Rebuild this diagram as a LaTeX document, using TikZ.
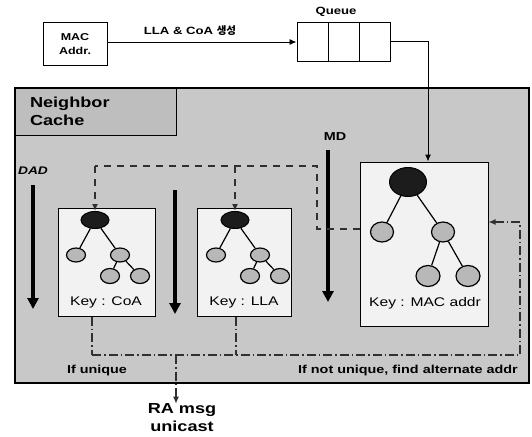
\documentclass[tikz,border=0pt]{standalone}
\usepackage{fontspec}
\setmainfont{Liberation Sans}
\newfontfamily\ws[FakeStretch=1.25]{Liberation Sans}
\newfontfamily\kr{Noto Sans CJK KR}
\usetikzlibrary{arrows.meta,shapes.geometric}
\definecolor{cachegray}{HTML}{C8C8C8}
\definecolor{titlegray}{HTML}{BEBEBE}
\definecolor{treebg}{HTML}{F2F2F2}
\definecolor{leafgray}{HTML}{B8B8B8}
\definecolor{rootblack}{HTML}{1C1C1C}
\definecolor{dashgray}{HTML}{303030}
\begin{document}
\begin{tikzpicture}[x=1pt,y=-1pt,
 box/.style={draw,line width=1pt,inner sep=0pt},
 rootnode/.style={ellipse,draw,fill=rootblack,line width=1pt,inner sep=0pt},
 leaf/.style={ellipse,draw,fill=leafgray,line width=1.2pt,inner sep=0pt},
 edge/.style={line width=1.2pt},
 flow/.style={line width=3.6pt,-{Triangle[width=11pt,length=11pt]}},
 dsh/.style={draw=dashgray,line width=1.6pt,dash pattern=on 7pt off 6pt},
 dd/.style={draw=dashgray,line width=1.3pt,dash pattern=on 9pt off 3pt on 1.5pt off 3pt},
 tip/.style={-{Latex[length=7pt,width=6pt]}},
 lbl/.style={inner sep=0pt,font=\ws\bfseries\fontsize{11.5}{13}\selectfont},
 keylbl/.style={inner sep=0pt,font=\ws\fontsize{12.5}{14}\selectfont}]

\useasboundingbox (0,0) rectangle (532,436);

% outer cache area
\node[box,line width=1.4pt,fill=cachegray,minimum width=514pt,minimum height=295pt] (cache) at (272,235.5) {};
\node[box,fill=titlegray,minimum width=161pt,minimum height=47pt,text width=131pt,align=left,
      font=\ws\bfseries\fontsize{14.5}{18}\selectfont] (title) at (95.5,111.5) {Neighbor\\Cache};

% top row
\node[box,fill=white,minimum width=64pt,minimum height=43pt,align=center,
      font=\ws\bfseries\fontsize{10}{14.5}\selectfont] (mac) at (75,44) {MAC\\Addr.};
\node[box,fill=white,minimum width=31pt,minimum height=38pt] (q1) at (312.5,42) {};
\node[box,fill=white,minimum width=31pt,minimum height=38pt] (q2) at (343.5,42) {};
\node[box,fill=white,minimum width=31pt,minimum height=38pt] (q3) at (374.5,42) {};
\node[lbl,font=\ws\bfseries\fontsize{10.5}{12}\selectfont] (qlabel) at (336,12) {Queue};
\node[lbl,font=\ws\bfseries\fontsize{10.5}{12}\selectfont] (gen) at (190,31) {LLA \& CoA {\kr 생성}};
\draw[line width=0.9pt,tip] (mac.east |- q1.west) -- (q1.west);

% tree boxes
\node[box,fill=treebg,minimum width=97pt,minimum height=108pt] (coa) at (106.5,262) {};
\node[box,fill=treebg,minimum width=94pt,minimum height=108pt] (lla) at (244,262) {};
\node[box,fill=treebg,minimum width=128pt,minimum height=164pt] (macb) at (424,244) {};

\draw[line width=1pt,tip] (q3.east) -| ([xshift=4pt]macb.north);

% CoA tree
\node[rootnode,minimum width=28pt,minimum height=17pt] (cr) at (95,220) {};
\node[leaf,minimum width=19pt,minimum height=14pt] (cl) at (76,255) {};
\node[leaf,minimum width=19pt,minimum height=14pt] (cc) at (120,255) {};
\node[leaf,minimum width=19pt,minimum height=15pt] (cg1) at (110,276) {};
\node[leaf,minimum width=19pt,minimum height=15pt] (cg2) at (140,276) {};
\draw[edge] (cr) -- (cl) (cr) -- (cc) (cc) -- (cg1) (cc) -- (cg2);
\node[keylbl] (ck) at (106,302) {Key : CoA};

% LLA tree
\node[rootnode,minimum width=28pt,minimum height=17pt] (lr) at (235,220) {};
\node[leaf,minimum width=19pt,minimum height=14pt] (ll) at (216,255) {};
\node[leaf,minimum width=19pt,minimum height=14pt] (lc) at (260,255) {};
\node[leaf,minimum width=19pt,minimum height=15pt] (lg1) at (250,276) {};
\node[leaf,minimum width=19pt,minimum height=15pt] (lg2) at (280,276) {};
\draw[edge] (lr) -- (ll) (lr) -- (lc) (lc) -- (lg1) (lc) -- (lg2);
\node[keylbl] (lk) at (244,302) {Key : LLA};

% MAC tree
\node[rootnode,minimum width=37pt,minimum height=29pt] (mr) at (408,182) {};
\node[leaf,minimum width=23pt,minimum height=20pt] (ml) at (382,232) {};
\node[leaf,minimum width=23pt,minimum height=20pt] (mc) at (443,232) {};
\node[leaf,minimum width=24pt,minimum height=21pt] (mg1) at (428,276) {};
\node[leaf,minimum width=24pt,minimum height=21pt] (mg2) at (468,276) {};
\draw[edge] (mr) -- (ml) (mr) -- (mc) (mc) -- (mg1) (mc) -- (mg2);
\node[keylbl] (mk) at (425,303) {Key : MAC addr};

% big flow arrows
\coordinate (dadtop) at (33,185);
\coordinate (dadbot) at (33,309);
\draw[flow] (dadtop) -- (dadbot);
\node[lbl,font=\ws\bfseries\itshape\fontsize{11}{12}\selectfont] (dad) at (33,171) {DAD};
\coordinate (midtop) at (175,190);
\coordinate (midbot) at (175,314);
\draw[flow] (midtop) -- (midbot);
\coordinate (mdtop) at (328,150);
\coordinate (mdbot) at (328,302);
\draw[flow] (mdtop) -- (mdbot);
\node[lbl,font=\ws\bfseries\fontsize{11.5}{12}\selectfont] (md) at (335,137) {MD};

% dashed lookup lines
\coordinate (dt) at (317,166);
\coordinate (mdj) at ([yshift=15pt]macb.west);
\draw[dsh] (mdj) -- (mdj -| dt) -- (dt) -- (dt -| cr);
\draw[dsh,tip] (dt -| cr) -- (cr.north);
\draw[dsh,tip] (dt -| lr) -- (lr.north);

% dash-dot result lines
\coordinate (bl) at (92,355);
\coordinate (br) at (520,355);
\coordinate (lv) at (236,355);
\coordinate (rv) at (176,355);
\coordinate (ma) at ([yshift=22pt]macb.east);
\draw[dd] (coa.south -| bl) -- (bl);
\draw[dd] (lla.south -| lv) -- (lv);
\draw[dd,tip] (bl) -- (br) -- (br |- ma) -- (ma);

% labels
\node[lbl] (uniq) at (97,371) {If unique};
\node[lbl] (nuniq) at (408,371) {If not unique, find alternate addr};
\node[inner sep=0pt,align=center,font=\ws\bfseries\fontsize{14.5}{18}\selectfont] (ra) at (182,418) {RA msg\\unicast};
\draw[dd,tip] (rv) -- (rv |- ra.north);
\end{tikzpicture}
\end{document}
